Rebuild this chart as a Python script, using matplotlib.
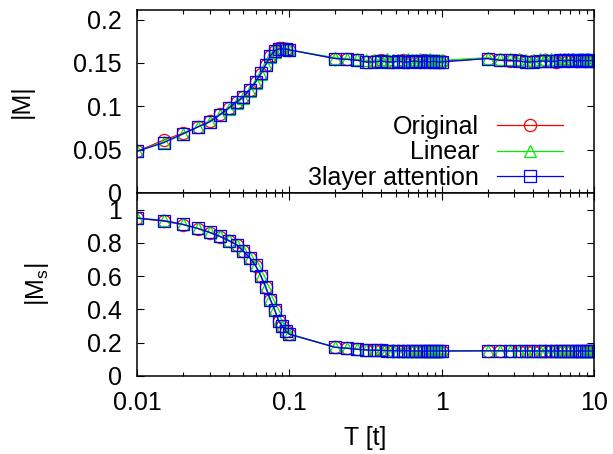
import matplotlib
matplotlib.use("Agg")
import matplotlib.pyplot as plt
from matplotlib.ticker import LogLocator, FixedLocator, FuncFormatter, NullFormatter

plt.rcParams['font.family'] = ['Liberation Sans', 'DejaVu Sans']
plt.rcParams['mathtext.fontset'] = 'custom'
plt.rcParams['mathtext.rm'] = 'Liberation Sans'
plt.rcParams['mathtext.it'] = 'Liberation Sans'

# temperature grid: three blocks (low T fine grid, 0.2-1, 2-10)
T = [0.01, 0.015, 0.02, 0.025, 0.03, 0.035, 0.04, 0.045, 0.05, 0.055,
     0.06, 0.065, 0.07, 0.075, 0.08, 0.085, 0.09, 0.095, 0.1,
     0.2, 0.24, 0.28, 0.32, 0.36, 0.4, 0.44, 0.48, 0.52, 0.56, 0.6,
     0.64, 0.68, 0.72, 0.76, 0.8, 0.84, 0.88, 0.92, 0.96, 1.0,
     2.0, 2.4, 2.8, 3.2, 3.6, 4.0, 4.4, 4.8, 5.2, 5.6, 6.0,
     6.4, 6.8, 7.2, 7.6, 8.0, 8.4, 8.8, 9.2, 9.6, 10.0]

# |M|
m_orig = [0.048, 0.061, 0.069, 0.076, 0.083, 0.091, 0.098, 0.105, 0.111, 0.119,
          0.128, 0.137, 0.148, 0.158, 0.164, 0.167, 0.167, 0.166, 0.165,
          0.155, 0.154, 0.153, 0.151, 0.152, 0.153, 0.152, 0.151, 0.152, 0.153, 0.151,
          0.152, 0.152, 0.151, 0.153, 0.152, 0.151, 0.152, 0.152, 0.151, 0.152,
          0.155, 0.153, 0.152, 0.153, 0.151, 0.152, 0.152, 0.153, 0.152, 0.151, 0.153,
          0.153, 0.152, 0.153, 0.152, 0.153, 0.153, 0.152, 0.153, 0.152, 0.152]
m_linear = [0.048, 0.059, 0.068, 0.076, 0.082, 0.090, 0.097, 0.104, 0.110, 0.118,
            0.127, 0.137, 0.148, 0.157, 0.163, 0.166, 0.166, 0.166, 0.165,
            0.156, 0.155, 0.154, 0.153, 0.153, 0.153, 0.154, 0.153, 0.153, 0.153, 0.154,
            0.153, 0.153, 0.154, 0.153, 0.153, 0.154, 0.153, 0.153, 0.153, 0.153,
            0.156, 0.154, 0.154, 0.155, 0.153, 0.153, 0.154, 0.154, 0.154, 0.153, 0.154,
            0.154, 0.154, 0.154, 0.153, 0.154, 0.154, 0.154, 0.154, 0.153, 0.153]
m_attn = [0.048, 0.058, 0.068, 0.076, 0.082, 0.090, 0.098, 0.105, 0.111, 0.119,
          0.128, 0.138, 0.148, 0.158, 0.164, 0.166, 0.166, 0.166, 0.165,
          0.155, 0.154, 0.153, 0.151, 0.151, 0.152, 0.151, 0.151, 0.152, 0.151, 0.151,
          0.152, 0.152, 0.151, 0.152, 0.152, 0.151, 0.152, 0.151, 0.151, 0.151,
          0.155, 0.153, 0.153, 0.152, 0.151, 0.151, 0.152, 0.152, 0.152, 0.152, 0.153,
          0.152, 0.153, 0.153, 0.152, 0.153, 0.152, 0.153, 0.152, 0.153, 0.152]

# |Ms|
ms_orig = [0.948, 0.930, 0.910, 0.886, 0.862, 0.838, 0.813, 0.788, 0.749, 0.709,
           0.663, 0.600, 0.532, 0.458, 0.398, 0.331, 0.298, 0.268, 0.250,
           0.172, 0.166, 0.160, 0.156, 0.154, 0.153, 0.152, 0.152, 0.151, 0.151,
           0.151, 0.150, 0.150, 0.150, 0.150, 0.150, 0.150, 0.150, 0.150, 0.150, 0.150,
           0.151, 0.151, 0.150, 0.150, 0.150, 0.150, 0.150, 0.150, 0.150, 0.150, 0.150,
           0.150, 0.150, 0.150, 0.150, 0.150, 0.150, 0.150, 0.150, 0.150, 0.150]
ms_linear = [0.950, 0.935, 0.912, 0.888, 0.864, 0.840, 0.815, 0.790, 0.751, 0.711,
             0.665, 0.603, 0.536, 0.460, 0.400, 0.333, 0.300, 0.270, 0.253,
             0.173, 0.167, 0.161, 0.157, 0.155, 0.154, 0.153, 0.153, 0.152, 0.152,
             0.152, 0.151, 0.151, 0.151, 0.151, 0.151, 0.151, 0.151, 0.151, 0.151, 0.151,
             0.152, 0.152, 0.151, 0.151, 0.151, 0.151, 0.151, 0.151, 0.151, 0.151, 0.151,
             0.151, 0.151, 0.151, 0.151, 0.151, 0.151, 0.151, 0.151, 0.151, 0.151]
ms_attn = [0.949, 0.933, 0.911, 0.887, 0.863, 0.839, 0.814, 0.789, 0.750, 0.710,
           0.664, 0.601, 0.534, 0.459, 0.399, 0.332, 0.299, 0.269, 0.251,
           0.172, 0.166, 0.160, 0.156, 0.154, 0.153, 0.152, 0.152, 0.151, 0.151,
           0.151, 0.150, 0.150, 0.150, 0.150, 0.150, 0.150, 0.150, 0.150, 0.150, 0.150,
           0.151, 0.151, 0.150, 0.150, 0.150, 0.150, 0.150, 0.150, 0.150, 0.150, 0.150,
           0.150, 0.150, 0.150, 0.150, 0.150, 0.150, 0.150, 0.150, 0.150, 0.150]

labels = ["Original", "Linear", "3layer attention"]
colors = ["#ff0000", "#00ee00", "#0000ff"]
markers = ["o", "^", "s"]
FS = 18

fig = plt.figure(figsize=(6.13, 4.54), dpi=100)
ax1 = fig.add_axes([0.2235, 0.575, 0.7455, 0.403])
ax2 = fig.add_axes([0.2235, 0.172, 0.7455, 0.403])

for ys, lab, c, mk in zip([m_orig, m_linear, m_attn], labels, colors, markers):
    ax1.plot(T, ys, color=c, marker=mk, ms=8.8, mfc='none', mec=c, mew=0.9,
             lw=0.9, label=lab)
for ys, lab, c, mk in zip([ms_orig, ms_linear, ms_attn], labels, colors, markers):
    ax2.plot(T, ys, color=c, marker=mk, ms=8.8, mfc='none', mec=c, mew=0.9,
             lw=0.9, label=lab)

fmt = FuncFormatter(lambda v, p: "%g" % v)
for ax in (ax1, ax2):
    ax.set_xscale('log')
    ax.set_xlim(0.01, 10)
    ax.xaxis.set_major_locator(LogLocator(base=10))
    ax.xaxis.set_minor_locator(LogLocator(base=10, subs=range(2, 10)))
    ax.xaxis.set_minor_formatter(NullFormatter())
    ax.tick_params(which='both', direction='in', top=True, right=True,
                   labelsize=FS, pad=11, width=0.8)
    ax.tick_params(which='major', length=5)
    ax.tick_params(which='minor', length=3)
    for s in ax.spines.values():
        s.set_linewidth(1.1)

ax1.set_ylim(0, 0.211)
ax1.yaxis.set_major_locator(FixedLocator([0, 0.05, 0.1, 0.15, 0.2]))
ax1.yaxis.set_major_formatter(fmt)
ax1.tick_params(labelbottom=False)
ax1.set_ylabel("|M|", fontsize=FS, labelpad=28)

ax2.set_ylim(0, 1.1)
ax2.yaxis.set_major_locator(FixedLocator([0, 0.2, 0.4, 0.6, 0.8, 1.0]))
ax2.yaxis.set_major_formatter(fmt)
ax2.xaxis.set_major_formatter(fmt)
ax2.set_ylabel(r"|M$_{\rm s}$|", fontsize=FS, labelpad=26)
ax2.set_xlabel("T [t]", fontsize=FS, labelpad=8)

ax1.legend(loc='lower right', bbox_to_anchor=(0.932, 0.018), frameon=False,
           markerfirst=False, fontsize=FS, handlelength=2.65, handletextpad=0.7,
           labelspacing=0.05, borderaxespad=0, borderpad=0)

fig.savefig("out.png", dpi=100)
